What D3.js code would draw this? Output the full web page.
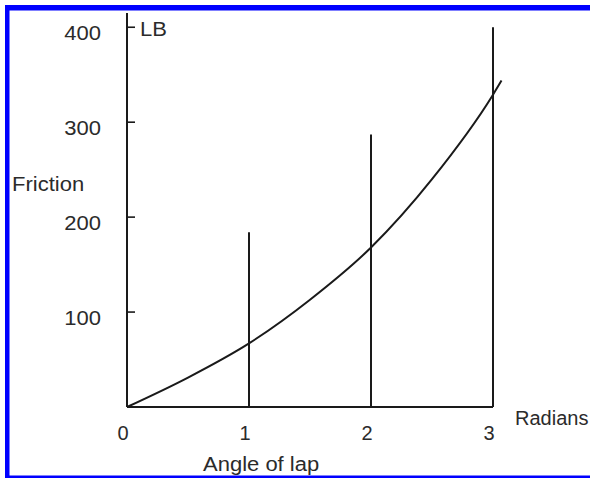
<!DOCTYPE html>
<html>
<head>
<meta charset="utf-8">
<script src="https://cdn.jsdelivr.net/npm/d3@7"></script>
<style>
  html, body { margin: 0; padding: 0; background: #fff; }
  svg { display: block; }
  text { font-family: "Liberation Sans", Arial, sans-serif; fill: #2b2b2b; }
</style>
</head>
<body>
<svg id="chart" width="590" height="478"></svg>
<script>
// ---- data ----
const xTicks = [0, 1, 2, 3];
const yTicks = [100, 200, 300, 400];
const curveAngles = [0, 0.5, 1, 1.5, 2, 2.5, 3, 3.07];
const curveFriction = [0, 31, 67, 113, 168, 240, 329, 344];
const lineAngles = [1, 2, 3];
const lineHeights = [184, 287, 400];
const xAxisLabel = "Angle of lap";
const xUnitLabel = "Radians";
const yAxisLabel = "Friction";
const yUnitLabel = "LB";

const svg = d3.select("#chart");
const x = d3.scaleLinear().domain([0, 3]).range([127, 493]);
const y = d3.scaleLinear().domain([0, 415]).range([407, 13]);

const stretch = 1.1;
function widen(sel) {
  sel.each(function () {
    const w = this.getComputedTextLength();
    d3.select(this).attr("textLength", w * stretch).attr("lengthAdjust", "spacingAndGlyphs");
  });
}

const ink = "#1a1a1a";

// axes
svg.append("line")
  .attr("x1", x(0)).attr("x2", x(0))
  .attr("y1", y(0)).attr("y2", y.range()[1])
  .attr("stroke", ink).attr("stroke-width", 2);
svg.append("line")
  .attr("x1", x(0)).attr("x2", x(3))
  .attr("y1", y(0)).attr("y2", y(0))
  .attr("stroke", ink).attr("stroke-width", 2);

// y ticks (short, to the right of the axis)
svg.selectAll(".ytick").data(yTicks).join("line")
  .attr("x1", x(0)).attr("x2", x(0) + 8)
  .attr("y1", d => y(d)).attr("y2", d => y(d))
  .attr("stroke", ink).attr("stroke-width", 1.6);

svg.selectAll(".ylab").data(yTicks).join("text")
  .attr("x", 101).attr("y", d => y(d) + 13)
  .attr("text-anchor", "end")
  .style("font-size", "20px")
  .text(d => d)
  .call(widen);

svg.selectAll(".xlab").data(xTicks).join("text")
  .attr("x", d => x(d) - 4).attr("y", 440)
  .attr("text-anchor", "middle")
  .style("font-size", "20px")
  .text(d => d);

// vertical lines
svg.selectAll(".vline").data(lineAngles).join("line")
  .attr("x1", d => x(d)).attr("x2", d => x(d))
  .attr("y1", y(0)).attr("y2", (d, i) => y(lineHeights[i]))
  .attr("stroke", ink).attr("stroke-width", 2);

// curve
const pts = curveAngles.map((a, i) => [a, curveFriction[i]]);
svg.append("path")
  .attr("d", d3.line().x(d => x(d[0])).y(d => y(d[1])).curve(d3.curveMonotoneX)(pts))
  .attr("fill", "none").attr("stroke", ink).attr("stroke-width", 2);

// labels
svg.append("text").attr("x", 140).attr("y", 36).style("font-size", "20px").text(yUnitLabel).call(widen);
svg.append("text").attr("x", 12).attr("y", 191).style("font-size", "20px").text(yAxisLabel).call(widen);
svg.append("text").attr("x", 515).attr("y", 425).style("font-size", "20px").text(xUnitLabel);
svg.append("text").attr("x", 203).attr("y", 471).style("font-size", "20px").text(xAxisLabel).call(widen);

// blue frame
svg.append("rect").attr("x", 5).attr("y", 5).attr("width", 585).attr("height", 5.5).attr("fill", "#0000ff");
svg.append("rect").attr("x", 5).attr("y", 5).attr("width", 4.5).attr("height", 473).attr("fill", "#0000ff");
svg.append("rect").attr("x", 5).attr("y", 475.5).attr("width", 585).attr("height", 2.5).attr("fill", "#0000ff");
</script>
</body>
</html>
